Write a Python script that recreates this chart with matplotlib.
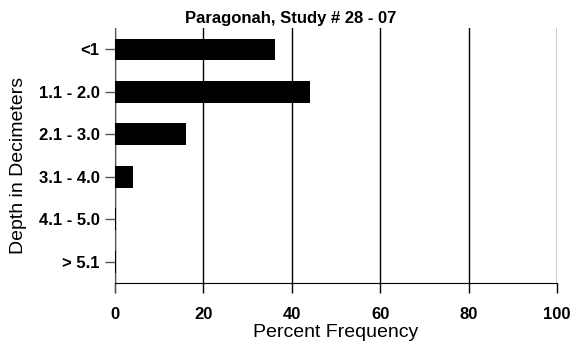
import matplotlib.pyplot as plt
import numpy as np

plt.rcParams['font.family'] = ['Liberation Sans', 'DejaVu Sans']

# Depth classes (top to bottom) and percent frequency
depths = ['<1', '1.1 - 2.0', '2.1 - 3.0', '3.1 - 4.0', '4.1 - 5.0', '> 5.1']
percents = [36.2, 44.1, 16.1, 4.1, 0.3, 0.2]

fig = plt.figure(figsize=(5.72, 3.47), dpi=100)
ax = fig.add_axes([0.201, 0.1844, 0.773, 0.7346])

# spine setup first (set_position resets tick objects)
for s in ['top', 'right']:
    ax.spines[s].set_visible(False)
ax.spines['left'].set_position(('data', 0))
ax.spines['left'].set_color('#555555')

y = np.arange(len(depths))
ax.barh(y, percents, height=0.51, color='black', zorder=3)

ax.set_ylim(len(depths) - 0.5, -0.5)
ax.set_xlim(0, 100)
ax.spines['left'].set_bounds(len(depths) - 0.5 + 0.22, -0.5)

ax.set_yticks(y)
ax.set_yticklabels(depths, fontsize=12, fontweight='bold')
ax.set_xticks([0, 20, 40, 60, 80, 100])
ax.set_xticklabels(['0', '20', '40', '60', '80', '100'], fontsize=12, fontweight='bold')
ax.tick_params(axis='x', length=7, width=1, pad=10)
ax.tick_params(axis='y', length=7, width=1, color='#555555', pad=4)

# Vertical grid lines
ax.grid(axis='x', color='black', linewidth=1, zorder=1)

ax.set_xlabel('Percent Frequency', fontsize=14, labelpad=2)
ax.set_ylabel('Depth in Decimeters', fontsize=14)
ax.yaxis.set_label_coords(-0.20, 0.463)

fig.text(0.509, 0.948, 'Paragonah, Study # 28 - 07', ha='center', va='center',
         fontsize=12, fontweight='bold')

fig.savefig('out.png', dpi=100)
